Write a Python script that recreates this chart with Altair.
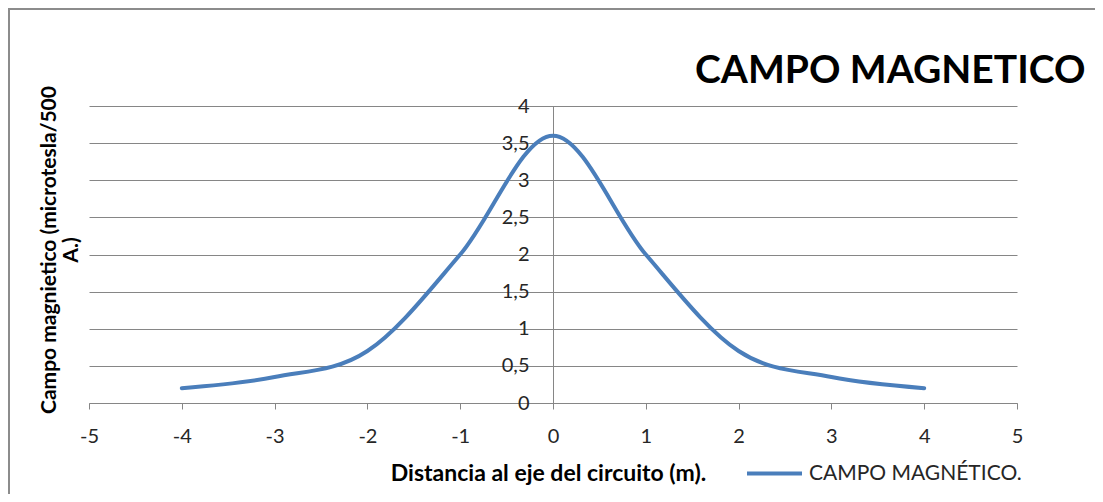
import altair as alt
import pandas as pd

# data
distancia = [-4, -3, -2, -1, 0, 1, 2, 3, 4]
campo = [0.2, 0.35, 0.7, 2.0, 3.6, 2.0, 0.7, 0.35, 0.2]
serie = "CAMPO MAGNÉTICO."
x_ticks = [-5, -4, -3, -2, -1, 0, 1, 2, 3, 4, 5]
y_ticks = [0, 0.5, 1, 1.5, 2, 2.5, 3, 3.5, 4]

df = pd.DataFrame({"x": distancia, "y": campo, "serie": [serie] * len(distancia)})

W, H = 928, 297
FONT = "Lato"
GRID = "#868686"
TXT = "#262626"

line = alt.Chart(df).mark_line(
    interpolate="cardinal", tension=0, strokeWidth=4, strokeCap="round"
).encode(
    x=alt.X("x:Q",
            scale=alt.Scale(domain=[-5, 5], nice=False, zero=False),
            axis=alt.Axis(values=x_ticks, grid=False, domainColor=GRID, tickColor=GRID,
                          tickSize=6, labelFontSize=20, labelFont=FONT, labelColor=TXT,
                          labelPadding=17, labelFlush=False,
                          labelExpr="toString(datum.value)",
                          title="Distancia al eje del circuito (m).",
                          titleFont=FONT, titleFontSize=23, titleFontWeight="bold",
                          titleColor="#000000", titleX=459, titleY=70,
                          titleBaseline="middle", titleAlign="center")),
    y=alt.Y("y:Q",
            scale=alt.Scale(domain=[0, 4], nice=False),
            axis=alt.Axis(values=y_ticks, grid=True, gridColor=GRID, gridWidth=1,
                          domainColor=GRID, tickColor=GRID, tickSize=5,
                          offset=-(W / 2),
                          labelFontSize=20, labelFont=FONT, labelColor=TXT,
                          labelPadding=19, labelFlush=False,
                          labelExpr="replace(toString(datum.value), '.', ',')",
                          title=["Campo magnietico (microtesla/500", "A.)"],
                          titleFont=FONT, titleFontSize=21, titleFontWeight="bold",
                          titleColor="#000000", titleAngle=270,
                          titleX=-(W / 2) - 40, titleY=H / 2 - 5,
                          titleBaseline="middle", titleAlign="center",
                          titleLineHeight=22)),
    color=alt.Color("serie:N", scale=alt.Scale(range=["#4a7ebb"]),
                    legend=alt.Legend(title=None, orient="none", legendX=656, legendY=338,
                                      symbolType="stroke", symbolSize=3025,
                                      symbolStrokeWidth=4, labelFont=FONT,
                                      labelFontSize=21, labelColor=TXT, labelOffset=5,
                                      labelLimit=400, padding=0)),
)

title_df = pd.DataFrame({"t": ["CAMPO MAGNETICO"]})
title = alt.Chart(title_df).mark_text(
    font=FONT, fontSize=39, fontWeight="bold", align="left", baseline="alphabetic",
    color="#000000"
).encode(text="t:N", x=alt.value(606), y=alt.value(-23))

border = alt.Chart(pd.DataFrame({"a": [0]})).mark_rect(
    filled=False, stroke="#8c8c8c", strokeWidth=2
).encode(x=alt.value(-80), y=alt.value(-97), x2=alt.value(1300), y2=alt.value(700))

chart = alt.layer(border, line, title).properties(
    width=W, height=H,
    autosize=alt.AutoSizeParams(type="none"),
    padding={"left": 81, "top": 98, "right": 78, "bottom": 91},
).configure_view(stroke=None)

chart.save("out.html", embed_options={"renderer": "svg", "actions": False})
